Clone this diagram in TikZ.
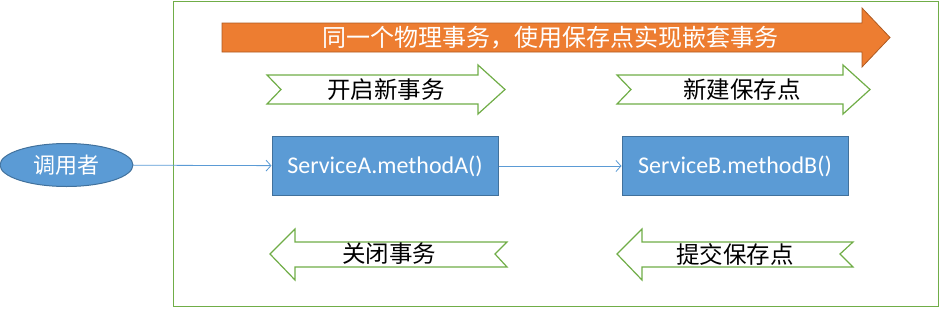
\documentclass[tikz,border=0pt]{standalone}
\usepackage{fontspec}
\setmainfont{Carlito}
\newfontfamily\cjk{Noto Sans CJK SC}
\usetikzlibrary{shapes.geometric, arrows.meta, positioning}

\definecolor{bluefill}{RGB}{91,155,213}
\definecolor{blueline}{RGB}{65,113,156}
\definecolor{orangefill}{RGB}{237,125,49}
\definecolor{orangeline}{RGB}{174,90,33}
\definecolor{framegreen}{RGB}{112,173,71}

\begin{document}
\begin{tikzpicture}[x=1pt, y=-1pt,
    caller/.style={ellipse, draw=blueline, line width=1pt, fill=bluefill, minimum width=133pt, minimum height=43pt, inner sep=0pt, text=white, font=\cjk\fontsize{22}{26}\selectfont},
    method/.style={rectangle, draw=blueline, line width=1pt, fill=bluefill, minimum width=226pt, minimum height=59pt, text=white, font=\fontsize{24}{28}\selectfont},
    notch/.style={draw=framegreen, line width=1.2pt, fill=white, line join=miter},
    label/.style={inner sep=0pt, font=\cjk\fontsize{23.5}{27}\selectfont},
    arrow/.style={draw=bluefill, line width=0.8pt, -{Straight Barb[length=5pt,width=11pt]}}]
\useasboundingbox (0,0) rectangle (940,308);

% frame of the transaction
\draw [framegreen, line width=1pt] (173,1.5) rectangle (938,306);

% big orange arrow
\draw [fill=orangefill, draw=orangeline, line width=0.8pt]
  (222,23) -- (862,23) -- (862,8) -- (890,37.5) -- (862,67) -- (862,52) -- (222,52) -- cycle;
\node (physical) [label, text=white, font=\cjk\fontsize{24}{28}\selectfont] at (550,37.5) {同一个物理事务，使用保存点实现嵌套事务};

% notched arrows pointing right
\draw [notch] (267,75) -- (478,75) -- (478,65) -- (505,89.5) -- (478,114) -- (478,104) -- (267,104) -- (281,89.5) -- cycle;
\node (begin) [label] at (386,89.5) {开启新事务};
\draw [notch] (617,75) -- (843,75) -- (843,65) -- (870,89.5) -- (843,114) -- (843,104) -- (617,104) -- (631,89.5) -- cycle;
\node (savepoint) [label] at (742,89.5) {新建保存点};

% notched arrows pointing left
\draw [notch] (270,254) -- (295,229) -- (295,242) -- (507,242) -- (495,254) -- (507,267) -- (295,267) -- (295,280) -- cycle;
\node (close) [label] at (389,254) {关闭事务};
\draw [notch] (617,254) -- (642,229) -- (642,242) -- (853,242) -- (840,254) -- (853,267) -- (642,267) -- (642,280) -- cycle;
\node (commit) [label] at (735,254) {提交保存点};

% callers and methods
\node (caller) [caller] at (66.5,165) {调用者};
\node (svcA) [method] at (385,166) {ServiceA.methodA()};
\node (svcB) [method] at (735,166) {ServiceB.methodB()};
\draw [arrow] (caller) -- (svcA);
\draw [arrow] (svcA) -- (svcB);
\end{tikzpicture}
\end{document}
